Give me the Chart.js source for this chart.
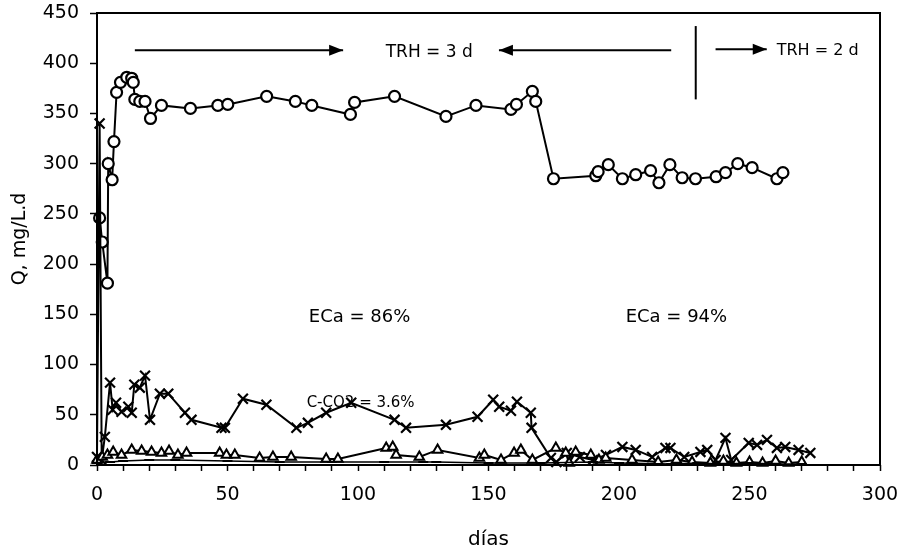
<!DOCTYPE html>
<html>
<head>
<meta charset="utf-8">
<script src="https://cdn.jsdelivr.net/npm/chart.js@4.4.1/dist/chart.umd.min.js"></script>
<style>
  html, body { margin: 0; padding: 0; background: #fff; }
  #c { display: block; }
</style>
</head>
<body>
<canvas id="c" width="909" height="554"></canvas>
<script>
// Q (circles): daily load
const qDays = [1, 2, 4, 4.3, 5.8, 6.5, 7.5, 9, 11.4, 13.3, 13.9, 14.5, 16.4, 18.4, 20.5, 24.7, 35.8, 46.3, 50.1, 65, 76, 82.3, 97.1, 98.7, 114, 133.7, 145.2, 158.6, 160.7, 166.8, 168.1, 174.9, 191.1, 192, 195.9, 201.3, 206.4, 212.1, 215.3, 219.5, 224.2, 229.3, 237.2, 240.8, 245.5, 251, 260.5, 262.8];
const qValues = [246, 222, 181, 300, 284, 322, 371, 381, 386, 385, 381, 364, 362, 362, 345, 358, 355, 358, 359, 367, 362, 358, 349, 361, 367, 347, 358, 354, 359, 372, 362, 285, 288, 292, 299, 285, 289, 293, 281, 299, 286, 285, 287, 291, 300, 296, 285, 291];

// Crosses
const crossDays = [0, 1, 1.8, 3, 5, 6, 7.3, 9.4, 12, 13.3, 14.3, 16.4, 18.4, 20.3, 24.1, 27.3, 33.7, 36.2, 47.7, 49, 55.9, 64.9, 76.4, 80.8, 87.8, 97.4, 114, 118.4, 133.7, 145.8, 151.8, 154.1, 158.6, 160.9, 166.2, 166.5, 173.9, 176, 180, 185, 190, 195, 201.3, 206.4, 212.7, 217.8, 219.7, 225, 231.2, 233.8, 237, 240.8, 243, 249.7, 252.9, 256.7, 260.5, 263.7, 268.8, 273.3];
const crossValues = [8, 340, 5, 28, 82, 55, 62, 53, 58, 52, 80, 77, 89, 45, 71, 71, 52, 45, 37, 37, 66, 60, 37, 42, 52, 62, 45, 37, 40, 48, 65, 58, 54, 63, 52, 37, 7, 3, 12, 8, 5, 10, 18, 15, 8, 17, 17, 8, 13, 15, 5, 27, 5, 22, 20, 25, 17, 18, 15, 12];

// Triangles
const triDays = [0, 2, 4, 6.2, 9.4, 13.3, 17.1, 20.9, 24.7, 27.6, 31, 34.3, 47, 49.6, 52.8, 62.3, 67.4, 74.4, 87.8, 92.3, 110.8, 113.3, 114.6, 123.5, 130.5, 146.5, 148.4, 154.8, 159.8, 162.4, 166.8, 175.8, 179.6, 180.9, 183.4, 189.2, 192.3, 194.9, 205, 215, 222, 228, 235, 240, 245, 250, 255, 260, 265, 270];
const triValues = [5, 8, 10, 13, 10, 15, 14, 13, 12, 14, 10, 12, 12, 10, 10, 7, 8, 8, 6, 6, 17, 18, 10, 8, 15, 7, 10, 5, 12, 15, 5, 17, 12, 2, 13, 10, 5, 7, 5, 3, 5, 3, 2, 4, 2, 3, 2, 4, 2, 3];

// Dashes along the baseline
const dashDays = [0, 5, 10, 20, 30, 50, 70, 90, 110, 125, 130, 150, 170, 190, 200, 220, 230, 240, 250, 260, 270];
const dashValues = [2, 3, 4, 5, 5, 4, 3, 3, 3, 3, 3, 2, 2, 3, 2, 1, 2, 1, 2, 1, 1];

// Axis ranges and steps
const xRange = [0, 300];
const yRange = [0, 450];
const xLabelStep = 50;

const toPoints = (xs, ys) => xs.map((d, i) => ({ x: d, y: ys[i] }));

const FONT = 'DejaVu Sans';

function arrow(ctx, x1, x2, y, headAtEnd) {
  const hl = 14, hw = 5.5;
  ctx.beginPath();
  ctx.moveTo(x1, y);
  ctx.lineTo(x2, y);
  ctx.stroke();
  const tip = headAtEnd ? x2 : x1;
  const dir = headAtEnd ? -1 : 1;
  ctx.beginPath();
  ctx.moveTo(tip, y);
  ctx.lineTo(tip + dir * hl, y - hw);
  ctx.lineTo(tip + dir * hl, y + hw);
  ctx.closePath();
  ctx.fill();
}

const frameAndNotes = {
  id: 'frameAndNotes',
  afterDraw(chart) {
    const { ctx, chartArea: a, scales: { x, y } } = chart;
    ctx.save();
    ctx.strokeStyle = '#000';
    ctx.fillStyle = '#000';
    ctx.lineWidth = 2;
    ctx.strokeRect(a.left, a.top, a.right - a.left, a.bottom - a.top);

    // retention-time annotations
    ctx.lineWidth = 2;
    const yArr = y.getPixelForValue(413);
    arrow(ctx, x.getPixelForValue(14.5), x.getPixelForValue(94.3), yArr, true);
    arrow(ctx, x.getPixelForValue(154), x.getPixelForValue(220), yArr, false);
    arrow(ctx, x.getPixelForValue(237), x.getPixelForValue(256.6), y.getPixelForValue(414), true);
    ctx.beginPath();
    ctx.moveTo(x.getPixelForValue(229.4), y.getPixelForValue(437));
    ctx.lineTo(x.getPixelForValue(229.4), y.getPixelForValue(364));
    ctx.stroke();

    ctx.textBaseline = 'middle';
    ctx.font = `17px "${FONT}"`;
    ctx.textAlign = 'center';
    ctx.fillText('TRH = 3 d', x.getPixelForValue(127.3), y.getPixelForValue(411));
    ctx.textAlign = 'left';
    ctx.font = `16px "${FONT}"`;
    ctx.fillText('TRH = 2 d', x.getPixelForValue(260.4), y.getPixelForValue(412));

    ctx.textAlign = 'center';
    ctx.font = `18px "${FONT}"`;
    ctx.fillText('ECa = 86%', x.getPixelForValue(100.6), y.getPixelForValue(147));
    ctx.fillText('ECa = 94%', x.getPixelForValue(222), y.getPixelForValue(147));
    ctx.font = `15px "${FONT}"`;
    ctx.fillText('C-CO2 = 3.6%', x.getPixelForValue(101), y.getPixelForValue(62));
    ctx.restore();
  }
};

const base = { showLine: true, borderColor: '#000', borderWidth: 2, pointBorderColor: '#000', clip: false };

new Chart(document.getElementById('c'), {
  type: 'scatter',
  data: {
    datasets: [
      Object.assign({}, base, { label: 'dash', data: toPoints(dashDays, dashValues), borderWidth: 1.5, pointStyle: 'line', pointRadius: 5, pointBorderWidth: 2 }),
      Object.assign({}, base, { label: 'tri', data: toPoints(triDays, triValues), pointStyle: 'triangle', pointRadius: 5.5, pointBorderWidth: 2, pointBackgroundColor: '#fff' }),
      Object.assign({}, base, { label: 'cross', data: toPoints(crossDays, crossValues), pointStyle: 'crossRot', pointRadius: 7, pointBorderWidth: 2.2 }),
      Object.assign({}, base, { label: 'Q', data: toPoints(qDays, qValues), pointStyle: 'circle', pointRadius: 5.5, pointBorderWidth: 2.2, pointBackgroundColor: '#fff' })
    ]
  },
  options: {
    responsive: false,
    animation: false,
    devicePixelRatio: 1,
    layout: { padding: { top: 13, right: 29, left: 0, bottom: 0 } },
    plugins: { legend: { display: false }, tooltip: { enabled: false } },
    scales: {
      x: {
        type: 'linear', min: xRange[0], max: xRange[1],
        ticks: {
          stepSize: 10, autoSkip: false, maxRotation: 0, padding: 13, color: '#000',
          font: { family: FONT, size: 19 },
          callback: v => (v % xLabelStep === 0 ? String(v) : '')
        },
        grid: { drawOnChartArea: false, drawTicks: true, tickLength: 6, tickWidth: 1.5, tickColor: '#000' },
        border: { display: false },
        title: { display: true, text: 'días', color: '#000', font: { family: FONT, size: 20 }, padding: { top: 0, bottom: 2 } },
        afterFit(s) { s.height = 89; s.paddingLeft = 0; s.paddingRight = 0; }
      },
      y: {
        min: yRange[0], max: yRange[1],
        ticks: { stepSize: 50, padding: 11, color: '#000', font: { family: FONT, size: 19 } },
        grid: { drawOnChartArea: false, drawTicks: true, tickLength: 7, tickWidth: 1.5, tickColor: '#000' },
        border: { display: false },
        title: { display: true, text: 'Q, mg/L.d', color: '#000', font: { family: FONT, size: 19 }, padding: { top: 9, bottom: 0 } },
        afterFit(s) { s.width = 97; s.paddingTop = 0; s.paddingBottom = 0; }
      }
    }
  },
  plugins: [frameAndNotes]
});
</script>
</body>
</html>
